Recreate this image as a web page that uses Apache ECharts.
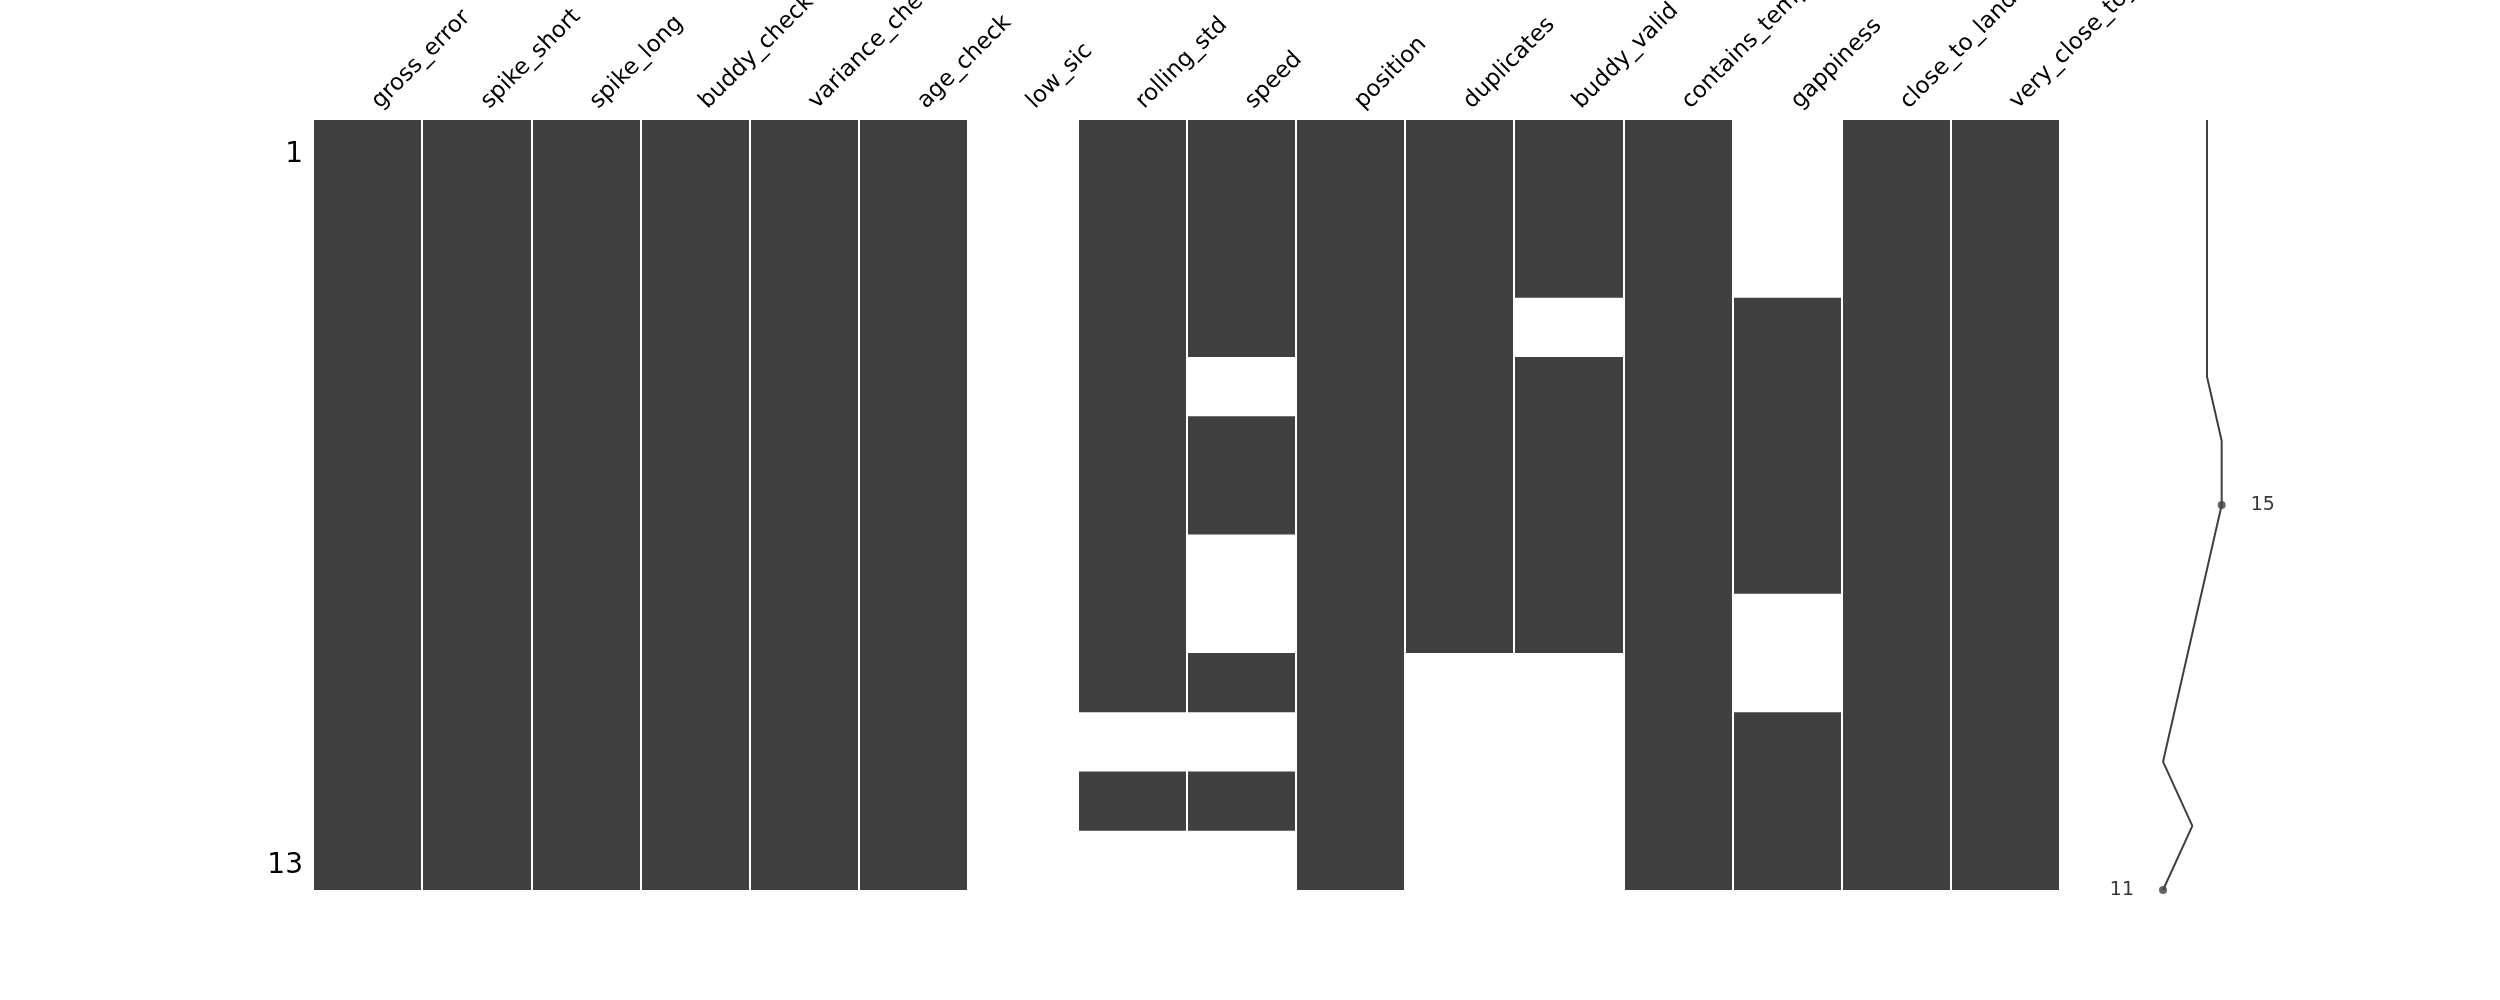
<!DOCTYPE html>
<html>
<head>
<meta charset="utf-8">
<script src="https://cdn.jsdelivr.net/npm/echarts@6/dist/echarts.min.js"></script>
<style>
html,body{margin:0;padding:0;background:#fff;}
#chart{width:2500px;height:1000px;}
</style>
</head>
<body>
<div id="chart"></div>
<script>
// Column names (top labels)
const columns = ['gross_error','spike_short','spike_long','buddy_check','variance_check','age_check','low_sic','rolling_std','speed','position','duplicates','buddy_valid','contains_temp','gappiness','close_to_land','very_close_to_land'];
// Row labels (only first and last shown)
const rowLabels = ['1','2','3','4','5','6','7','8','9','10','11','12','13'];
// Presence matrix: 1 = value present, 0 = missing (13 rows x 16 columns)
const present = [
  [1,1,1,1,1,1,0,1,1,1,1,1,1,0,1,1],
  [1,1,1,1,1,1,0,1,1,1,1,1,1,0,1,1],
  [1,1,1,1,1,1,0,1,1,1,1,1,1,0,1,1],
  [1,1,1,1,1,1,0,1,1,1,1,0,1,1,1,1],
  [1,1,1,1,1,1,0,1,0,1,1,1,1,1,1,1],
  [1,1,1,1,1,1,0,1,1,1,1,1,1,1,1,1],
  [1,1,1,1,1,1,0,1,1,1,1,1,1,1,1,1],
  [1,1,1,1,1,1,0,1,0,1,1,1,1,1,1,1],
  [1,1,1,1,1,1,0,1,0,1,1,1,1,0,1,1],
  [1,1,1,1,1,1,0,1,1,1,0,0,1,0,1,1],
  [1,1,1,1,1,1,0,0,0,1,0,0,1,1,1,1],
  [1,1,1,1,1,1,0,1,1,1,0,0,1,1,1,1],
  [1,1,1,1,1,1,0,0,0,1,0,0,1,1,1,1]
];
// Row completeness (sparkline values)
const completeness = [14,14,14,14,14,15,15,14,13,12,11,13,11];
// Annotated extremes: [value, rowIndex]
const maxPoint = [15, 6];
const minPoint = [11, 12];

const FONT = 'DejaVu Sans';
const DARK = '#404040';

// Merge consecutive present cells of each column into vertical runs: [col, firstRow, lastRow]
const runs = [];
for (let c = 0; c < columns.length; c++) {
  let start = -1;
  for (let r = 0; r <= present.length; r++) {
    const on = r < present.length && present[r][c] === 1;
    if (on && start < 0) start = r;
    if (!on && start >= 0) { runs.push([c, start, r - 1]); start = -1; }
  }
}
const sparkData = completeness.map((v, i) => [v, i]);

const chart = echarts.init(document.getElementById('chart'), null, {renderer: 'canvas'});
chart.setOption({
  backgroundColor: '#ffffff',
  animation: false,
  grid: [
    {left: 313, top: 120, width: 1747, height: 770, outerBoundsMode: 'none', containLabel: false},
    {left: 2133.7, top: 120, width: 117.3, height: 770, outerBoundsMode: 'none', containLabel: false}
  ],
  xAxis: [
    {
      type: 'category', gridIndex: 0, data: columns, position: 'top', z: 10,
      boundaryGap: true,
      axisLine: {show: false}, axisTick: {show: false},
      splitLine: {show: true, interval: 0, lineStyle: {color: '#ffffff', width: 2}},
      axisLabel: {
        interval: 0, rotate: -45, margin: 23,
        align: 'left', verticalAlign: 'top',
        fontFamily: FONT, fontSize: 23, color: '#000000'
      }
    },
    {
      type: 'value', gridIndex: 1, min: 9, max: 17, show: false
    }
  ],
  yAxis: [
    {
      type: 'category', gridIndex: 0, data: rowLabels, inverse: true,
      axisLine: {show: false}, axisTick: {show: false}, splitLine: {show: false},
      axisLabel: {
        interval: 0, margin: 10, fontFamily: FONT, fontSize: 28, color: '#000000',
        formatter: (v, i) => (i === 0 || i === rowLabels.length - 1) ? '{n|' + v + '}' : '',
        rich: {n: {fontFamily: FONT, fontSize: 28, color: '#000000', padding: [10, 0, 0, 0]}}
      }
    },
    {
      type: 'value', gridIndex: 1, min: 0, max: 12, inverse: true, show: false
    }
  ],
  series: [
    {
      type: 'custom', xAxisIndex: 0, yAxisIndex: 0, data: runs,
      encode: {x: 0, y: [1, 2]},
      renderItem: function (params, api) {
        const c = api.value(0), r0 = api.value(1), r1 = api.value(2);
        const p = api.coord([c, r0]);
        const sz = api.size([1, 1]);
        return {
          type: 'rect',
          shape: {x: p[0] - sz[0] / 2, y: p[1] - sz[1] / 2, width: sz[0], height: sz[1] * (r1 - r0 + 1)},
          style: {fill: DARK}
        };
      },
      silent: true
    },
    {
      type: 'line', xAxisIndex: 1, yAxisIndex: 1, data: sparkData,
      showSymbol: false, symbol: 'none',
      lineStyle: {color: DARK, width: 2},
      clip: false
    },
    {
      type: 'scatter', xAxisIndex: 1, yAxisIndex: 1,
      symbol: 'circle', symbolSize: 8,
      itemStyle: {color: DARK},
      data: [
        {value: maxPoint, label: {show: true, position: 'right', distance: 25, formatter: String(maxPoint[0])}},
        {value: minPoint, label: {show: true, position: 'left', distance: 25, formatter: String(minPoint[0])}}
      ],
      label: {fontFamily: FONT, fontSize: 19, color: '#000000'}
    }
  ]
});
</script>
</body>
</html>
